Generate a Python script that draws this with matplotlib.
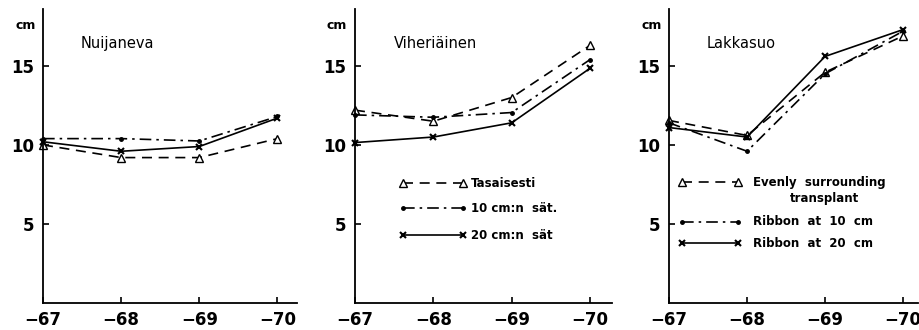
import matplotlib.pyplot as plt
import numpy as np

# Years on the x axis
years = ["−67", "−68", "−69", "−70"]
sites = ["Nuijaneva", "Viheriäinen", "Lakkasuo"]

# Growth in cm, one list per site and treatment
evenly = [[10.0, 9.2, 9.2, 10.4],
          [12.2, 11.5, 13.0, 16.3],
          [11.55, 10.6, 14.6, 16.9]]
ribbon10 = [[10.4, 10.4, 10.25, 11.8],
            [11.9, 11.75, 12.05, 15.4],
            [11.4, 9.6, 14.5, 17.2]]
ribbon20 = [[10.2, 9.6, 9.9, 11.7],
            [10.15, 10.5, 11.4, 14.85],
            [11.1, 10.5, 15.6, 17.3]]

legend_fi = ["Tasaisesti", "10 cm:n  sät.", "20 cm:n  sät"]
legend_en = ["Evenly  surrounding", "Ribbon  at  10  cm", "Ribbon  at  20  cm"]

plt.rcParams['font.family'] = ['DejaVu Sans']

fig = plt.figure(figsize=(9.2, 3.3), dpi=100)

# axes boxes in pixels (left, right) and x limits
boxes = [(43, 297, 3.25), (355, 612, 3.28), (669, 918, 3.19)]
bottom = 1 - 303 / 330
height = (303 - 9) / 330

styles = [
    dict(ls=(0, (6, 4)), marker='^', mfc='white', ms=6),
    dict(ls=(0, (7, 3, 1.5, 3)), marker='o', ms=2.5),
    dict(ls='-', marker='x', ms=5, mew=1.5),
]

x = np.arange(len(years))
for i, site in enumerate(sites):
    l, r, xmax = boxes[i]
    ax = fig.add_axes([l / 920, bottom, (r - l) / 920, height])
    for series, st in zip([evenly, ribbon10, ribbon20], styles):
        ax.plot(x, series[i], color='black', lw=1.2, clip_on=False, **st)
    ax.set_xlim(0, xmax)
    ax.set_ylim(0, 18.6)
    ax.set_xticks(x)
    ax.set_xticklabels(years)
    ax.set_yticks([5, 10, 15])
    ax.spines['top'].set_visible(False)
    ax.spines['right'].set_visible(False)
    ax.spines['left'].set_linewidth(1.3)
    ax.spines['bottom'].set_linewidth(1.3)
    ax.tick_params(direction='in', length=4, width=1.2, labelsize=12, pad=6)
    for t in ax.get_xticklabels() + ax.get_yticklabels():
        t.set_fontweight('bold')
    ax.text(-0.07, 0.945, "cm", transform=ax.transAxes, ha='center', va='center',
            fontsize=9, fontweight='bold')
    ax.text(0.15, 0.884, site, transform=ax.transAxes, ha='left', va='center',
            fontsize=10.5)

    # hand-drawn legends in panels 2 and 3
    if i == 1:
        x0, x1, xt = 0.187, 0.42, 0.452
        ys = [0.408, 0.323, 0.231]
        labels = legend_fi
    elif i == 2:
        x0, x1, xt = 0.052, 0.277, 0.337
        ys = [0.41, 0.276, 0.204]
        labels = legend_en
    else:
        continue
    for yy, st, lab in zip(ys, styles, labels):
        ax.plot([x0, x1], [yy, yy], transform=ax.transAxes, color='black',
                lw=1.2, clip_on=False, **st)
        ax.text(xt, yy, lab, transform=ax.transAxes, ha='left', va='center',
                fontsize=8.5, fontweight='bold')
    if i == 2:
        ax.text(0.486, 0.355, "transplant", transform=ax.transAxes, ha='left',
                va='center', fontsize=8.5, fontweight='bold')

fig.savefig("out.png", dpi=100)
